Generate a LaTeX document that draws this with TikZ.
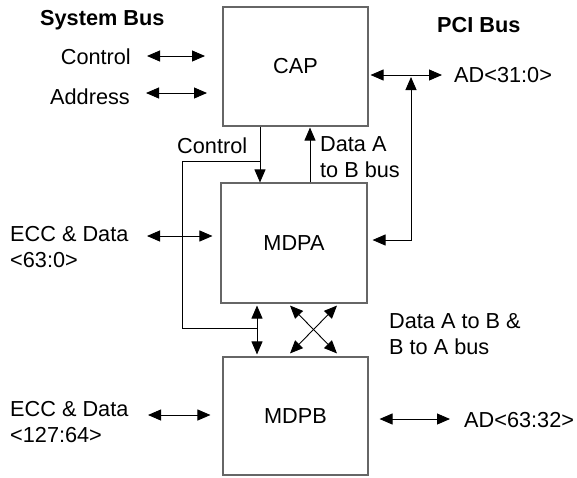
\documentclass[tikz,border=0pt]{standalone}
\usepackage{fontspec}
\setmainfont{Liberation Sans}
\usetikzlibrary{arrows.meta}
\newcommand\diagfont{\fontsize{21.7}{25.5}\selectfont}
\begin{document}
\begin{tikzpicture}[x=1pt,y=-1pt,
  box/.style={draw=black!60, line width=1.1pt, inner sep=0pt, font=\diagfont},
  lbl/.style={inner sep=0pt, font=\diagfont, align=left},
  blbl/.style={inner sep=0pt, font=\diagfont\bfseries},
  conn/.style={line width=0.9pt, draw=black, >={Triangle[length=13pt,width=11pt]}},
]
\useasboundingbox (0,0) rectangle (577,477);

% boxes
\node[box, minimum width=145pt, minimum height=119pt] (cap)  at (295.5,66.5) {CAP};
\node[box, minimum width=146pt, minimum height=120pt] (mdpa) at (294,243) {MDPA};
\node[box, minimum width=145pt, minimum height=118pt] (mdpb) at (295.5,416) {MDPB};

% labels (multi-line labels are anchored on their last line)
\node[blbl, anchor=base west] (sysbus) at (40,25) {System Bus};
\node[blbl, anchor=base west] (pcibus) at (437,32) {PCI Bus};
\node[lbl, anchor=base east] (ctlS) at (131,64) {Control};
\node[lbl, anchor=base east] (adrS) at (130,104) {Address};
\node[lbl, anchor=base west] (ad31) at (454,82) {AD<31:0>};
\node[lbl, anchor=base west] (ctlD) at (177,153) {Control};
\node[lbl, anchor=base west] (dab)  at (320,177) {Data A\\to B bus};
\node[lbl, anchor=base west] (ecc1) at (10,267) {ECC \& Data\\<63:0>};
\node[lbl, anchor=base west] (dabx) at (389,354) {Data A to B \&\\B to A bus};
\node[lbl, anchor=base west] (ecc2) at (10,442) {ECC \& Data\\<127:64>};
\node[lbl, anchor=base west] (ad63) at (464,427) {AD<63:32>};

% coordinates
\coordinate (ctlL) at (147,56);  \coordinate (ctlR) at (205,56);
\coordinate (adrL) at (146,93);  \coordinate (adrR) at (207,93);
\coordinate (pciR) at (442,75);  \coordinate (pciJ) at (411,75);
\coordinate (pciB) at (411,240);
\coordinate (ctlV) at (260,161);
\coordinate (brA) at (182,161);  \coordinate (brB) at (182,328);
\coordinate (brC) at (257,328);
\coordinate (dabX) at (310,150);
\coordinate (e1L) at (147,236);
\coordinate (xa) at (290,330);   \coordinate (xb) at (337,330);
\coordinate (e2L) at (148,415);
\coordinate (a63) at (450,419);

% connectors
\draw[conn,<->] (ctlL) -- (ctlR);
\draw[conn,<->] (adrL) -- (adrR);
\draw[conn,<->] ([xshift=2pt]cap.east |- pciR) -- (pciR);
\draw[conn,<->] ([xshift=5pt]mdpa.east |- pciB) -- (pciB) -- ([yshift=-2pt]pciJ);
\draw[conn,->] (cap.south -| ctlV) -- (mdpa.north -| ctlV);
\draw[conn] (ctlV) -- (brA) -- (brB) -- (brC);
\draw[conn,<->] ([yshift=-2pt]mdpa.south -| brC) -- ([yshift=2pt]mdpb.north -| brC);
\draw[conn,->] (mdpa.north -| dabX) -- ([yshift=-1pt]cap.south -| dabX);
\draw[conn,<->] (e1L) -- ([xshift=-8pt]mdpa.west |- e1L);
\draw[conn,<->] ([yshift=-2pt]mdpa.south -| xa) -- ([yshift=3pt]mdpb.north -| xb);
\draw[conn,<->] ([yshift=-2pt]mdpa.south -| xb) -- ([yshift=3pt]mdpb.north -| xa);
\draw[conn,<->] (e2L) -- ([xshift=-12pt]mdpb.west |- e2L);
\draw[conn,<->] ([xshift=11pt]mdpb.east |- a63) -- (a63);
\end{tikzpicture}
\end{document}
